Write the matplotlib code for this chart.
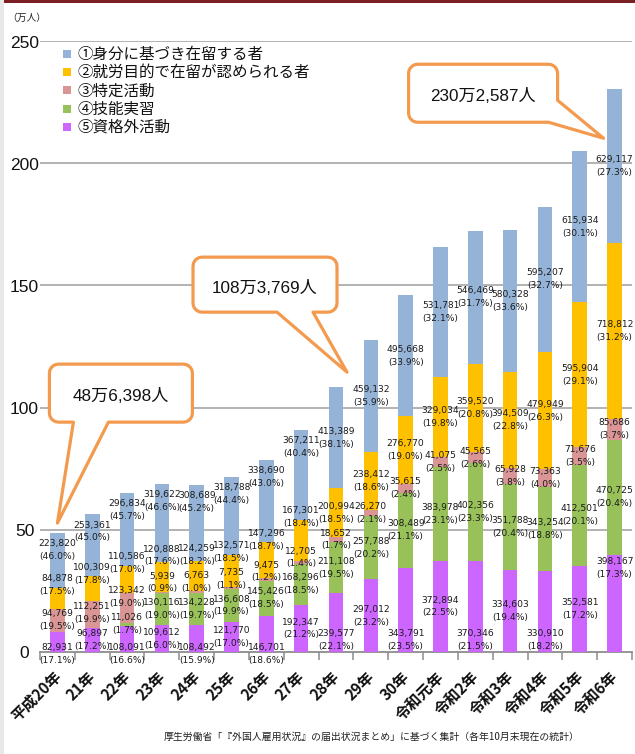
import numpy as np
import matplotlib
matplotlib.use("Agg")
import matplotlib.pyplot as plt
from matplotlib.patches import Polygon, Rectangle
from matplotlib.transforms import IdentityTransform, offset_copy

plt.rcParams['font.family'] = ['Noto Sans CJK JP', 'DejaVu Sans']

# ---------------- data ----------------
years = ["平成20年", "21年", "22年", "23年", "24年", "25年", "26年", "27年", "28年",
         "29年", "30年", "令和元年", "令和2年", "令和3年", "令和4年", "令和5年", "令和6年"]

permission = [82931, 96897, 108091, 109612, 108492, 121770, 146701, 192347, 239577,
              297012, 343791, 372894, 370346, 334603, 330910, 352581, 398167]
permission_pct = [17.1, 17.2, 16.6, 16.0, 15.9, 17.0, 18.6, 21.2, 22.1,
                  23.2, 23.5, 22.5, 21.5, 19.4, 18.2, 17.2, 17.3]
trainee = [0, 0, 11026, 130116, 134228, 136608, 145426, 168296, 211108,
           257788, 308489, 383978, 402356, 351788, 343254, 412501, 470725]
trainee_pct = [None, None, 1.7, 19.0, 19.7, 19.9, 18.5, 18.5, 19.5,
               20.2, 21.1, 23.1, 23.3, 20.4, 18.8, 20.1, 20.4]
designated = [94769, 112251, 123342, 5939, 6763, 7735, 9475, 12705, 18652,
              26270, 35615, 41075, 45565, 65928, 73363, 71676, 85686]
designated_pct = [19.5, 19.9, 19.0, 0.9, 1.0, 1.1, 1.2, 1.4, 1.7,
                  2.1, 2.4, 2.5, 2.6, 3.8, 4.0, 3.5, 3.7]
work = [84878, 100309, 110586, 120888, 124259, 132571, 147296, 167301, 200994,
        238412, 276770, 329034, 359520, 394509, 479949, 595904, 718812]
work_pct = [17.5, 17.8, 17.0, 17.6, 18.2, 18.5, 18.7, 18.4, 18.5,
            18.6, 19.0, 19.8, 20.8, 22.8, 26.3, 29.1, 31.2]
status = [223820, 253361, 296834, 319622, 308689, 318788, 338690, 367211, 413389,
          459132, 495668, 531781, 546469, 580328, 595207, 615934, 629117]
status_pct = [46.0, 45.0, 45.7, 46.6, 45.2, 44.4, 43.0, 40.4, 38.1,
              35.9, 33.9, 32.1, 31.7, 33.6, 32.7, 30.1, 27.3]

legend_labels = ["①身分に基づき在留する者", "②就労目的で在留が認められる者", "③特定活動",
                 "④技能実習", "⑤資格外活動"]

callout_idx = [0, 8, 16]
callout_text = ["48万6,398人", "108万3,769人", "230万2,587人"]

y_ticks = [0, 50, 100, 150, 200, 250]
source_text = "厚生労働省「『外国人雇用状況』の届出状況まとめ」に基づく集計（各年10月末現在の統計）"
unit_text = "（万人）"

# ---------------- style ----------------
C_BLUE, C_YEL, C_PINK, C_GRN, C_PUR = "#95B3D7", "#FFC000", "#D99694", "#98C15A", "#CC66FF"
ORANGE = "#F39A4E"
W, H = 635, 754
AX_L, AX_R, AX_T, AX_B = 40, 632, 41, 652

fig = plt.figure(figsize=(W / 100, H / 100), dpi=100)
ax = fig.add_axes([AX_L / W, 1 - AX_B / H, (AX_R - AX_L) / W, (AX_B - AX_T) / H])

n = len(years)
x = np.arange(n)
series = [permission, trainee, designated, work, status]
pcts = [permission_pct, trainee_pct, designated_pct, work_pct, status_pct]
colors = [C_PUR, C_GRN, C_PINK, C_YEL, C_BLUE]

vals = [np.array(s, dtype=float) / 1e4 for s in series]
bottom = np.zeros(n)
bottoms = []
for v, c in zip(vals, colors):
    bottoms.append(bottom.copy())
    ax.bar(x, v, width=0.42, bottom=bottom, color=c, zorder=3, linewidth=0)
    bottom = bottom + v
totals = bottom

ax.set_xlim(-0.5, n - 0.5)
ax.set_ylim(0, 250)
for s in ['top', 'right', 'left']:
    ax.spines[s].set_visible(False)
ax.spines['bottom'].set_color("#8C8C8C")
ax.spines['bottom'].set_linewidth(1.3)
ax.set_yticks(y_ticks)
ax.set_yticklabels([])
ax.tick_params(axis='y', length=0)
for yv in y_ticks[1:]:
    ax.axhline(yv, color="#A6A6A6", lw=1.2, zorder=1)
ax.set_xticks(x)
ax.set_xticklabels([])
ax.tick_params(axis='x', which='major', length=0)
ax.set_xticks(np.arange(-0.5, n, 1.0), minor=True)
ax.tick_params(axis='x', which='minor', length=6, width=1.1, color="#8C8C8C", direction='out')

# y tick labels
for yv in y_ticks:
    ax.text(-0.5, yv, str(yv), transform=offset_copy(ax.transData, fig, x=-15.5, y=-2, units='dots'),
            ha='center', va='center', fontsize=12.5, family=['Liberation Sans', 'DejaVu Sans'], color="#111111")

# x tick labels
for i, lab in enumerate(years):
    ax.text(i, 0, lab, transform=offset_copy(ax.transData, fig, x=1, y=-22, units='dots'),
            rotation=45, rotation_mode='anchor', ha='right', va='center',
            fontsize=11, fontweight='bold', color="#111111")

# ---------------- data labels ----------------
GAP = 11.0
for i in range(n):
    ys = []
    items = []
    for k in range(5):
        h = vals[k][i]
        if h <= 0:
            continue
        b = bottoms[k][i]
        top = b + h
        c = b + h / 2
        if k == 0:
            if i % 2 == 0:
                if i <= 6:
                    y = -0.7
                elif i < n - 1:
                    y = 5.0
                else:
                    y = top - 5.5
            else:
                y = c
        elif k == 3:
            y = top + 1.0 if h < 20 else c
        elif k == 4:
            y = max(c, top - 7) if h < 40 else c
        else:
            y = c
        if ys and y < ys[-1] + GAP:
            y = ys[-1] + GAP
        ys.append(y)
        items.append((series[k][i], pcts[k][i], y))
    for v, p, y in items:
        ax.text(i, y, f"{v:,}\n({p:.1f}%)", ha='center', va='center', fontsize=6.6,
                family='DejaVu Sans', color="#1A1A1A", linespacing=1.55, zorder=5)

# ---------------- callouts ----------------
def arc(cx, cy, r, a0, a1, m=6):
    a = np.radians(np.linspace(a0, a1, m))
    return list(zip(cx + r * np.cos(a), cy + r * np.sin(a)))

def outline(l, t, r, b, R, tail):
    # screen (y-down) coordinates relative to tip at (0, 0)
    pts = []
    pts += arc(l + R, t + R, R, 180, 270)
    pts += arc(r - R, t + R, R, 270, 360)
    if tail[0] == 'bottom':
        x1, x2 = tail[1], tail[2]
        pts += arc(r - R, b - R, R, 0, 90)
        pts += [(x2, b), (0, 0), (x1, b)]
    else:  # corner: right edge point y, bottom edge point x
        ry, bx = tail[1], tail[2]
        pts += [(r, ry), (0, 0), (bx, b)]
    pts += arc(l + R, b - R, R, 90, 180)
    return pts

callout_geom = [
    # tip offset from bar top (dx, dy screen), box l, t, r, b, tail
    ((0, -10), (-8, -159, 135, -101), ('bottom', 16, 51)),
    ((11, -15), (-154, -115, -10, -60), ('bottom', -70, -34)),
    ((-11, 49), (-195, -74, -46, -16), ('corner', -38, -55)),
]

fig.canvas.draw()
for idx, txt, geom in zip(callout_idx, callout_text, callout_geom):
    (tdx, tdy), (l, t, r, b), tail = geom
    bx, by = ax.transData.transform((idx, totals[idx]))
    tx, ty = bx + tdx, by - tdy
    pts = outline(l, t, r, b, 9, tail)
    disp = [(tx + px, ty - py) for px, py in pts]
    poly = Polygon(disp, closed=True, transform=IdentityTransform(), facecolor='white',
                   edgecolor=ORANGE, linewidth=2.3, joinstyle='round', zorder=6)
    fig.add_artist(poly)
    cx, cy = tx + (l + r) / 2, ty - ((t + b) / 2 + 3)
    fig.text(cx / W, cy / H, txt, ha='center', va='center', fontsize=12.3,
             family=['Liberation Sans', 'Noto Sans CJK JP'], color="#111111", zorder=7)

# ---------------- legend ----------------
leg_colors = [C_BLUE, C_YEL, C_PINK, C_GRN, C_PUR]
for j, (lab, c) in enumerate(zip(legend_labels, leg_colors)):
    yc = 54 + j * 18.2
    fig.add_artist(Rectangle((63 / W, 1 - (yc + 4) / H), 8 / W, 8 / H,
                             transform=fig.transFigure, facecolor=c, edgecolor='none'))
    fig.text(77 / W, 1 - (yc + 0.5) / H, lab, ha='left', va='center', fontsize=11.2, color="#111111")

# ---------------- texts & frame ----------------
fig.text(7 / W, 1 - 18 / H, unit_text, ha='left', va='center', fontsize=7, color="#222222")
fig.text(372 / W, 1 - 737 / H, source_text, ha='center', va='center', fontsize=7.1, color="#222222")
fig.add_artist(Rectangle((0, 1 - 2.5 / H), 1, 2.5 / H, transform=fig.transFigure,
                         facecolor="#7A1F24", edgecolor='none'))
fig.add_artist(Rectangle((0, 0), 4 / W, 1, transform=fig.transFigure,
                         facecolor="#E8E8E8", edgecolor='none'))

fig.savefig("out.png", dpi=100)
